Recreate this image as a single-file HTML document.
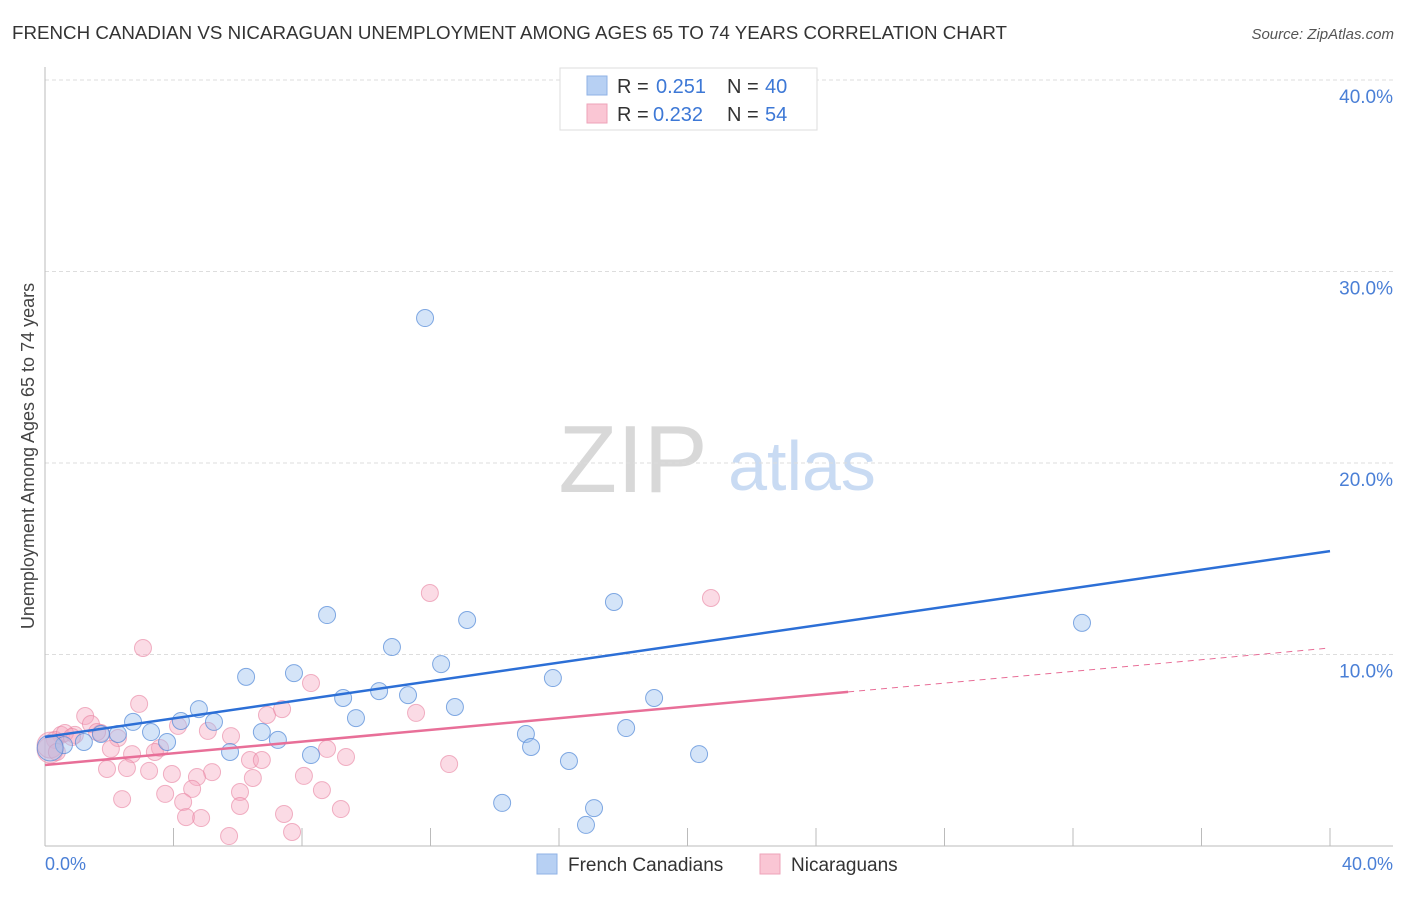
<!DOCTYPE html>
<html><head><meta charset="utf-8"><style>
body{margin:0;background:#fff;font-family:"Liberation Sans",sans-serif}
svg text{font-family:"Liberation Sans",sans-serif}
</style></head><body>
<svg id="c" width="1406" height="892">
<text x="12" y="39" font-size="18" fill="#333" textLength="995" lengthAdjust="spacingAndGlyphs">FRENCH CANADIAN VS NICARAGUAN UNEMPLOYMENT AMONG AGES 65 TO 74 YEARS CORRELATION CHART</text>
<text x="1394" y="39" font-size="15" fill="#555" font-style="italic" text-anchor="end">Source: ZipAtlas.com</text>
<text x="633" y="492" font-size="96" fill="#d8d8d8" text-anchor="middle" font-family="Liberation Serif,serif">ZIP</text>
<text x="802" y="490" font-size="70" fill="#c9dbf3" text-anchor="middle">atlas</text>
<text transform="translate(34,456) rotate(-90)" font-size="18" fill="#444" text-anchor="middle">Unemployment Among Ages 65 to 74 years</text>
<g id="grid"></g><g id="marks"></g>
<g>
<rect x="560" y="68" width="257" height="62" fill="#fff" stroke="#ddd"/>
<rect x="587" y="76" width="20" height="19" fill="#b7d0f3" stroke="#8fb2e6"/>
<rect x="587" y="104" width="20" height="19" fill="#fac6d4" stroke="#eea3b9"/>
<text x="617" y="93" font-size="20" fill="#333">R =</text>
<text x="656" y="93" font-size="20" fill="#3d78d6">0.251</text>
<text x="727" y="93" font-size="20" fill="#333">N =</text>
<text x="765" y="93" font-size="20" fill="#3d78d6">40</text>
<text x="617" y="121" font-size="20" fill="#333">R =</text>
<text x="653" y="121" font-size="20" fill="#3d78d6">0.232</text>
<text x="727" y="121" font-size="20" fill="#333">N =</text>
<text x="765" y="121" font-size="20" fill="#3d78d6">54</text>
</g>
<rect x="537" y="854" width="20" height="20" fill="#b7d0f3" stroke="#8fb2e6"/>
<text x="568" y="871" font-size="19" fill="#333">French Canadians</text>
<rect x="760" y="854" width="20" height="20" fill="#fac6d4" stroke="#eea3b9"/>
<text x="791" y="871" font-size="19" fill="#333">Nicaraguans</text>
</svg>
<script>
const blueX=[11.83,8.78,17.71,32.28,13.14,10.80,12.33,7.75,6.26,15.81,10.40,11.30,9.28,18.96,4.79,12.76,9.68,4.23,5.26,2.74,18.09,14.97,6.75,3.30,2.27,1.74,7.25,3.80,1.21,0.59,15.13,5.76,8.28,20.36,16.31,0.16,14.23,17.09,16.84,19.14];
const blueY=[27.57,12.06,12.74,11.65,11.80,10.39,9.50,9.03,8.83,8.77,8.09,7.88,7.73,7.73,7.15,7.26,6.68,6.53,6.48,6.48,6.16,5.85,5.95,5.95,5.85,5.85,5.54,5.43,5.43,5.27,5.17,4.91,4.75,4.80,4.44,5.12,2.25,1.98,1.10,40.10];
const pinkX=[11.98,20.73,3.05,8.28,2.93,6.91,7.38,11.55,1.25,1.43,4.14,5.07,5.79,1.74,2.27,0.50,0.93,0.31,0.16,2.05,2.71,3.58,3.42,8.78,9.37,6.38,6.75,1.93,2.55,3.24,3.95,5.20,12.58,4.73,8.06,6.47,4.58,3.74,6.07,8.62,2.40,4.30,6.07,9.21,7.44,4.39,4.86,5.73,7.69,0.16,0.62,1.62,0.37,0.84];
const pinkY=[13.21,12.95,10.34,8.51,7.42,6.84,7.15,6.95,6.79,6.37,6.27,6.01,5.74,5.90,5.64,5.80,5.80,5.54,5.01,5.07,4.80,5.12,4.91,5.07,4.65,4.49,4.49,4.02,4.07,3.92,3.76,3.86,4.28,3.60,3.66,3.55,2.98,2.72,2.82,2.92,2.45,2.30,2.09,1.93,1.67,1.51,1.46,0.52,0.73,5.27,5.90,5.95,4.91,5.69];
const blueTrend=[5.69,15.4];
const pinkTrend=[4.23,10.34];
const pinkSolidEnd=25.0;
const yTicks=[10,20,30,40];
const yTickLabels=["10.0%","20.0%","30.0%","40.0%"];
const xTicks=[0,4,8,12,16,20,24,28,32,36,40];
const NS="http://www.w3.org/2000/svg";
const X=v=>45+v*32.125, Y=v=>846-v*19.15;
function mk(p,t,a){const e=document.createElementNS(NS,t);for(const k in a)e.setAttribute(k,a[k]);p.appendChild(e);return e;}
const g=document.getElementById('grid'),m=document.getElementById('marks');
yTicks.forEach((t,i)=>{
 const l=mk(g,'line',{x1:45,x2:1393,y1:Y(t),y2:Y(t),stroke:'#ddd','stroke-dasharray':'4,3'});
 
 
 const tx=mk(g,'text',{x:1393,y:Y(t)+23,'font-size':19,fill:'#4a7fd6','text-anchor':'end'});tx.textContent=yTickLabels[i];
 
 
});
xTicks.forEach(t=>{const l=mk(g,'line',{x1:X(t),x2:X(t),y1:828,y2:846,stroke:'#bbb'});
 
 });
let a=mk(g,'line',{x1:45,x2:45,y1:67,y2:846,stroke:'#bbb'});


a=mk(g,'line',{x1:45,x2:1393,y1:846,y2:846,stroke:'#bbb'});


let t=mk(g,'text',{x:45,y:870,'font-size':18,fill:'#4a7fd6'});t.textContent='0.0%';


t=mk(g,'text',{x:1393,y:870,'font-size':18,fill:'#4a7fd6','text-anchor':'end'});t.textContent='40.0%';


function pts(xs,ys,fill,stroke,name){xs.forEach((x,i)=>{const big=(x<0.2);
 const c=mk(m,'circle',{cx:X(x),cy:Y(ys[i]),r:big?13:8.5,fill:fill,stroke:stroke,'stroke-width':1});
 
 });}
pts(pinkX,pinkY,'rgba(246,170,192,0.42)','rgba(232,130,160,0.6)','point-nicaraguan');
pts(blueX,blueY,'rgba(160,195,240,0.45)','rgba(80,135,215,0.7)','point-french-canadian');
const pe=pinkTrend[0]+(pinkTrend[1]-pinkTrend[0])*pinkSolidEnd/40;
let L=mk(m,'line',{x1:X(pinkSolidEnd),y1:Y(pe),x2:X(40),y2:Y(pinkTrend[1]),stroke:'#e86f98','stroke-width':1,'stroke-dasharray':'6,5'});


L=mk(m,'line',{x1:X(0),y1:Y(pinkTrend[0]),x2:X(pinkSolidEnd),y2:Y(pe),stroke:'#e86f98','stroke-width':2.5});


L=mk(m,'line',{x1:X(0),y1:Y(blueTrend[0]),x2:X(40),y2:Y(blueTrend[1]),stroke:'#2c6fd6','stroke-width':2.5});


</script>
</body></html>
